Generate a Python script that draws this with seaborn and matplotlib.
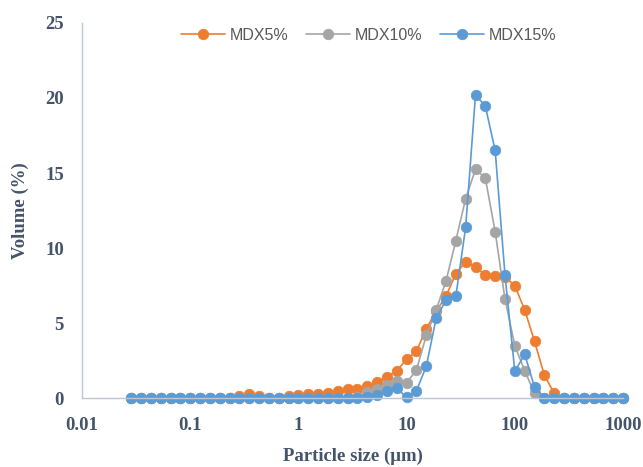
import matplotlib
matplotlib.use("Agg")
import matplotlib.pyplot as plt
import seaborn as sns
import pandas as pd
from matplotlib.ticker import FixedLocator, FixedFormatter, NullLocator

# Particle size classes (µm)
sizes = [0.02848, 0.03511, 0.04329, 0.05337, 0.06579, 0.08111, 0.1, 0.1233, 0.152, 0.1874,
         0.231, 0.2848, 0.3511, 0.4329, 0.5337, 0.6579, 0.8111, 1.0, 1.233, 1.52,
         1.874, 2.31, 2.848, 3.511, 4.329, 5.337, 6.579, 8.111, 10.0, 12.33,
         15.2, 18.74, 23.1, 28.48, 35.11, 43.29, 53.37, 65.79, 81.11, 100.0,
         123.3, 152.0, 187.4, 231.0, 284.8, 351.1, 432.9, 533.7, 657.9, 811.1, 1000.0]

mdx5 = [0, 0, 0, 0, 0, 0, 0, 0, 0, 0,
        0.05, 0.15, 0.3, 0.15, 0.05, 0.05, 0.15, 0.25, 0.3, 0.3,
        0.35, 0.5, 0.6, 0.6, 0.8, 1.1, 1.45, 1.85, 2.6, 3.15,
        4.65, 5.8, 6.8, 8.3, 9.1, 8.75, 8.2, 8.15, 8.1, 7.5,
        5.9, 3.8, 1.55, 0.35, 0, 0, 0, 0, 0, 0, 0]

mdx10 = [0, 0, 0, 0, 0, 0, 0, 0, 0, 0,
         0, 0, 0, 0, 0, 0, 0, 0, 0, 0,
         0, 0, 0, 0.1, 0.4, 0.6, 0.9, 1.15, 1.05, 1.9,
         4.2, 5.9, 7.8, 10.5, 13.3, 15.25, 14.65, 11.1, 6.6, 3.5,
         1.85, 0.35, 0, 0, 0, 0, 0, 0, 0, 0, 0]

mdx15 = [0, 0, 0, 0, 0, 0, 0, 0, 0, 0,
         0, 0, 0, 0, 0, 0, 0, 0, 0, 0,
         0, 0, 0, 0, 0.1, 0.25, 0.5, 0.68, 0.08, 0.52,
         2.15, 5.33, 6.55, 6.8, 11.4, 20.2, 19.45, 16.5, 8.2, 1.8,
         2.95, 0.75, 0.05, 0, 0, 0, 0, 0, 0, 0, 0]

series_names = ["MDX5%", "MDX10%", "MDX15%"]
colors = ["#ED7D31", "#A5A5A5", "#5B9BD5"]

x_ticks = [0.01, 0.1, 1, 10, 100, 1000]
x_tick_labels = ["0.01", "0.1", "1", "10", "100", "1000"]
y_ticks = [0, 5, 10, 15, 20, 25]

df = pd.DataFrame({
    "size": sizes * 3,
    "volume": mdx5 + mdx10 + mdx15,
    "series": [series_names[0]] * len(sizes) + [series_names[1]] * len(sizes) + [series_names[2]] * len(sizes),
})

sns.set_style("white")
fig = plt.figure(figsize=(6.43, 4.67), dpi=100)
ax = fig.add_axes([0.1275, 0.1467, 0.8415, 0.8047])

for name, col in zip(series_names, colors):
    sub = df[df["series"] == name]
    sns.lineplot(data=sub, x="size", y="volume", ax=ax, color=col, marker="o",
                 markersize=7.6, markeredgecolor=col, markeredgewidth=0.5,
                 linewidth=1.2, label=name, clip_on=False, sort=False)

ax.set_xscale("log")
ax.set_xlim(0.01, 1000)
ax.set_ylim(0, 25)
ax.xaxis.set_major_locator(FixedLocator(x_ticks))
ax.xaxis.set_major_formatter(FixedFormatter(x_tick_labels))
ax.xaxis.set_minor_locator(NullLocator())
ax.set_yticks(y_ticks)

label_color = "#44546A"
serif = "Liberation Serif"
for lab in ax.get_xticklabels() + ax.get_yticklabels():
    lab.set_fontfamily(serif)
    lab.set_fontweight("bold")
    lab.set_fontsize(13.5)
    lab.set_color(label_color)
ax.tick_params(axis="both", length=0)
ax.tick_params(axis="x", pad=13)
ax.tick_params(axis="y", pad=13)

ax.set_xlabel("Particle size (μm)", fontfamily=serif, fontweight="bold",
              fontsize=13.5, color=label_color, labelpad=10)
ax.set_ylabel("Volume (%)", fontfamily=serif, fontweight="bold",
              fontsize=13.5, color=label_color, labelpad=12)

for s in ["top", "right"]:
    ax.spines[s].set_visible(False)
for s in ["left", "bottom"]:
    ax.spines[s].set_color("#BCC6D4")
    ax.spines[s].set_linewidth(1.0)

leg = ax.legend(loc="center", bbox_to_anchor=(0.573, 0.925), bbox_transform=fig.transFigure,
                ncol=3, frameon=False, handlelength=2.75, columnspacing=1.1,
                handletextpad=0.3, prop={"family": "Liberation Sans", "size": 11.5})
for t in leg.get_texts():
    t.set_color("#595959")

fig.savefig("out.png", dpi=100)
